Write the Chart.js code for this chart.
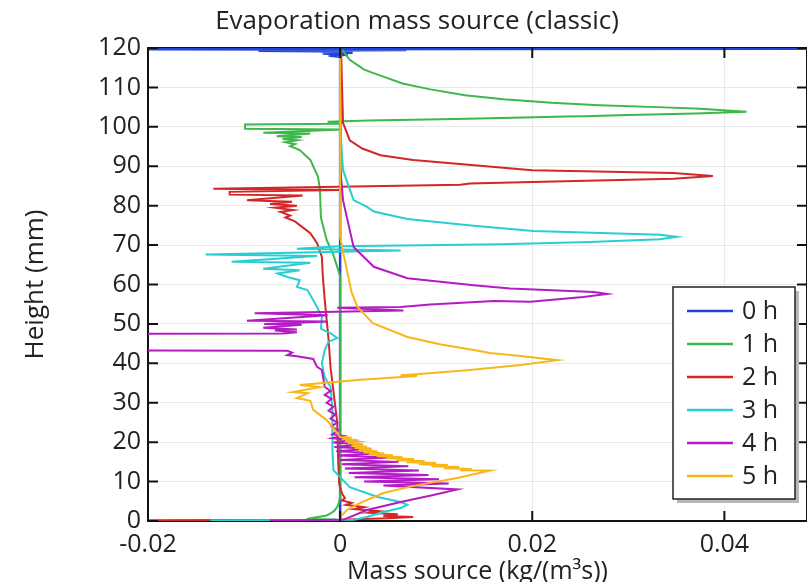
<!DOCTYPE html>
<html>
<head>
<meta charset="utf-8">
<script src="https://cdn.jsdelivr.net/npm/chart.js@4"></script>
<style>
  html, body { margin: 0; padding: 0; background: #fff; }
  #wrap { width: 807px; height: 582px; }
</style>
</head>
<body>
<div id="wrap"><canvas id="chart" width="807" height="582"></canvas></div>
<script>
/* ------------------------------------------------------------------ */
/*  Data  ([mass source, height])                                      */
/* ------------------------------------------------------------------ */

var seriesLabels = ["0 h", "1 h", "2 h", "3 h", "4 h", "5 h"];
var seriesColors = ["#2143d6", "#3db84a", "#d42626", "#27cfd2", "#b31bc4", "#f8b718"];

var xTicks = [-0.02, 0, 0.02, 0.04];
var xTickLabels = ["-0.02", "0", "0.02", "0.04"];
var yTicks = [0, 10, 20, 30, 40, 50, 60, 70, 80, 90, 100, 110, 120];

var h0 = [
  [0, 0], [0, 117.8], [-0.0012, 118.1], [0.0008, 118.3], [-0.0018, 118.6], [0.0013, 118.8],
  [-0.0019, 119.0], [0.0013, 119.1], [-0.0085, 119.3], [0.0069, 119.4], [-0.0085, 119.5],
  [0.0069, 119.55], [-0.03, 119.7], [0.06, 119.8], [-0.03, 119.9], [0.06, 120]
];

var h1 = [
  [0.0002, 119.5], [0.001, 117], [0.0025, 114.5], [0.0042, 113.0], [0.0065, 111.0], [0.0094, 109.5],
  [0.013, 108.0], [0.017, 107.0], [0.022, 106.1], [0.027, 105.5], [0.033, 105.0], [0.0375, 104.6],
  [0.0423, 103.8], [0.037, 103.4], [0.03, 103.0], [0.0255, 102.7], [0.0235, 102.6], [0.018, 102.3],
  [0.012, 102.0], [0.003, 101.6], [-0.0013, 101.3], [0.0002, 100.8], [-0.0099, 100.6], [-0.0099, 99.5],
  [0.0002, 99.3], [-0.008, 98.5], [-0.0031, 98.3], [-0.0066, 97.6], [-0.004, 97.4], [-0.006, 96.9],
  [-0.0045, 96.6], [-0.0057, 96.1], [-0.0047, 95.6], [-0.0052, 95.1], [-0.0042, 94.1], [-0.0031, 91.6],
  [-0.0023, 87.3], [-0.0021, 84], [-0.002, 77], [-0.0014, 71.3], [-0.0007, 67.5], [-0.0002, 63.7],
  [0, 62], [0, 6.0], [-0.0002, 4.0], [-0.0006, 2.6], [-0.001, 1.9], [-0.0014, 1.4], [-0.0035, 0.5],
  [-0.0005, 0.4], [0, 0]
];

var h2 = [
  [0.0001, 119.5], [0.0002, 110], [0.0003, 101], [0.001, 96.6], [0.0023, 94.5], [0.0042, 92.8],
  [0.0076, 91.6], [0.02, 89.0], [0.0347, 88.3], [0.0388, 87.5], [0.0347, 86.8], [0.02, 86.0],
  [0.0135, 85.6], [0.0125, 85.3], [0.003, 84.9], [-0.0132, 84.3], [0.0, 84.0], [-0.0115, 83.5],
  [-0.0115, 82.8], [-0.0039, 82.6], [-0.0097, 81.4], [-0.005, 81.0], [-0.0073, 80.4], [-0.0045, 80.0],
  [-0.0068, 79.5], [-0.0049, 78.9], [-0.0062, 78.4], [-0.0052, 77.5], [-0.0057, 77.0], [-0.0047, 76.0],
  [-0.0039, 74.5], [-0.0031, 73], [-0.0024, 70.5], [-0.0019, 67], [-0.0018, 62], [-0.0016, 56],
  [-0.0014, 51], [-0.0012, 46], [-0.001, 39], [-0.0006, 31], [-0.0003, 25], [-0.0002, 15],
  [-0.0001, 9.5], [0.0, 8.5], [0.0002, 7], [0.0005, 5.8], [0.0002, 5.2], [0.0012, 4.6], [0.0006, 4.1],
  [0.0025, 3.5], [0.0015, 3.0], [0.004, 2.5], [0.003, 2.1], [0.006, 1.7], [0.0045, 1.3], [0.0076, 1.0],
  [0.005, 0.7], [0.0, 0.3], [-0.025, 0.15]
];

var h3 = [
  [0, 119.5], [0, 100], [0.0003, 89], [0.0014, 81.4], [0.0028, 79.7], [0.0035, 78.5], [0.007, 76.6],
  [0.0139, 74.9], [0.0201, 73.6], [0.0333, 72.6], [0.035, 72.1], [0.0333, 71.5], [0.026, 70.8],
  [0.0167, 70.2], [0.0063, 69.9], [0.0, 69.7], [-0.0045, 69.1], [0.0063, 68.6], [-0.014, 67.6],
  [-0.0024, 67.2], [-0.0113, 65.8], [-0.0031, 65.5], [-0.008, 64.0], [-0.0042, 63.6], [-0.0065, 62.8],
  [-0.0055, 61.9], [-0.0042, 61.1], [-0.0045, 59.4], [-0.0034, 58.6], [-0.0024, 54.3], [-0.0019, 51.8],
  [-0.002, 48.8], [-0.0009, 47.5], [-0.0003, 46.4], [-0.0012, 45.5], [-0.0016, 43.4], [-0.0019, 40],
  [-0.0016, 36.5], [-0.001, 34], [-0.0008, 28], [-0.0008, 18], [-0.0007, 12.9], [0.001, 8.6],
  [0.0039, 6.1], [0.0063, 4.8], [0.007, 4.1], [0.0063, 3.3], [0.0045, 2.3], [0.0028, 1.0],
  [0.0014, 0.3], [-0.0135, 0.15]
];

var h4 = [
  [0, 119.5], [0, 90], [0.0003, 81.4], [0.0014, 69.5], [0.0035, 64.5], [0.007, 61.6], [0.0139, 59.8],
  [0.0177, 59.0], [0.0264, 58.1], [0.0278, 57.6], [0.0253, 56.8], [0.0198, 55.6], [0.016, 55.8],
  [0.0094, 54.9], [0.0063, 54.3], [-0.0003, 54.1], [0.0066, 53.4], [-0.0089, 52.7], [-0.0013, 52.2],
  [-0.0097, 50.8], [-0.0013, 50.6], [-0.0079, 50.0], [-0.004, 49.8], [-0.008, 49.0], [-0.0045, 48.6],
  [-0.0068, 48.3], [-0.0045, 47.9], [-0.006, 47.6], [-0.03, 47.4], [-0.03, 43.3], [-0.0055, 43.2],
  [-0.005, 42.7], [-0.0055, 42.1], [-0.0045, 41.8], [-0.0028, 41.1], [-0.0024, 39.1], [-0.0019, 38.3],
  [-0.0016, 34], [-0.001, 33], [-0.0016, 32], [-0.0009, 31], [-0.0014, 30], [-0.0007, 29],
  [-0.0012, 28], [-0.0005, 27], [-0.001, 26], [-0.0003, 25], [-0.0009, 24], [-0.0002, 23],
  [-0.0008, 22], [0.0003, 21.6], [-0.0008, 21.0], [0.0012, 20.5], [-0.0007, 19.9], [0.0022, 19.4],
  [-0.0006, 18.8], [0.0031, 18.3], [-0.0004, 17.7], [0.0041, 17.2], [-0.0002, 16.6], [0.0051, 16.1],
  [0.0, 15.5], [0.0061, 15.0], [0.0002, 14.4], [0.0071, 13.9], [0.0005, 13.3], [0.0082, 12.8],
  [0.0009, 12.2], [0.0092, 11.7], [0.0015, 11.1], [0.0103, 10.6], [0.0025, 10.0], [0.0113, 9.5],
  [0.0045, 9.0], [0.0122, 8.0], [0.0097, 6.6], [0.0063, 4.8], [0.0028, 2.8], [0.001, 1.0],
  [0.0003, 0.3], [-0.0073, 0.15]
];

var h5 = [
  [0, 119.5], [0, 72], [0.0002, 69.5], [0.0007, 63.7], [0.0012, 58], [0.0018, 54.3], [0.0034, 50.2],
  [0.007, 46.7], [0.0105, 44.8], [0.0139, 43.4], [0.0156, 42.6], [0.019, 41.8], [0.0226, 40.8],
  [0.0188, 39.6], [0.0135, 38.3], [0.0083, 37.3], [0.0063, 37.0], [0.008, 36.8], [0.0018, 35.8],
  [-0.0042, 34.5], [-0.0021, 34.0], [-0.0049, 32.7], [-0.0034, 32.4], [-0.0045, 31.2], [-0.0031, 30.5],
  [-0.0028, 28.2], [-0.0014, 25.6], [-0.0007, 23.6], [0.0, 21.3], [0.0012, 21.1], [0.0002, 20.8],
  [0.0016, 20.6], [0.0005, 20.3], [0.0019, 20.1], [0.0008, 19.7], [0.0024, 19.5], [0.0012, 19.1],
  [0.0028, 18.9], [0.0015, 18.5], [0.0033, 18.3], [0.0019, 17.9], [0.0039, 17.7], [0.0024, 17.4],
  [0.0046, 17.2], [0.003, 16.9], [0.0055, 16.7], [0.0038, 16.4], [0.0065, 16.2], [0.0048, 15.9],
  [0.0077, 15.7], [0.0058, 15.4], [0.0088, 15.2], [0.0069, 14.9], [0.01, 14.7], [0.0082, 14.4],
  [0.0112, 14.2], [0.0095, 13.9], [0.0124, 13.7], [0.0108, 13.4], [0.0137, 13.2], [0.0125, 12.9],
  [0.0156, 12.8], [0.0122, 10.9], [0.008, 9.1], [0.0045, 7.1], [0.0021, 4.6], [0.0007, 2.8],
  [0.0, 1.0], [0.0, 0]
];

var allSeries = [h0, h1, h2, h3, h4, h5];

/* ------------------------------------------------------------------ */
/*  Plugins                                                            */
/* ------------------------------------------------------------------ */

var FONT = "'Open Sans', 'Noto Sans', sans-serif";

// plot title, offset to the left like the source figure
var titlePlugin = {
  id: "plotTitle",
  afterDraw: function (chart) {
    var ctx = chart.ctx;
    ctx.save();
    ctx.fillStyle = "#222";
    ctx.font = "26px " + FONT;
    ctx.textAlign = "center";
    ctx.textBaseline = "middle";
    ctx.fillText("Evaporation mass source (classic)", 417, 22);
    ctx.restore();
  }
};

// box frame under the data, inward tick marks over it
var framePlugin = {
  id: "frame",
  beforeDatasetsDraw: function (chart) {
    var ctx = chart.ctx, a = chart.chartArea;
    ctx.save();
    ctx.strokeStyle = "#111";
    ctx.lineWidth = 2;
    ctx.strokeRect(a.left, a.top, a.right - a.left, a.bottom - a.top);
    ctx.restore();
  },
  afterDatasetsDraw: function (chart) {
    var ctx = chart.ctx, a = chart.chartArea;
    var xs = chart.scales.x, ys = chart.scales.y;
    ctx.save();
    ctx.strokeStyle = "#111";
    ctx.lineWidth = 2;
    ctx.beginPath();
    xTicks.forEach(function (v) {
      var px = xs.getPixelForValue(v);
      ctx.moveTo(px, a.top); ctx.lineTo(px, a.top + 10);
      ctx.moveTo(px, a.bottom); ctx.lineTo(px, a.bottom - 10);
    });
    yTicks.forEach(function (v) {
      var py = ys.getPixelForValue(v);
      ctx.moveTo(a.left, py); ctx.lineTo(a.left + 10, py);
      ctx.moveTo(a.right, py); ctx.lineTo(a.right - 10, py);
    });
    ctx.stroke();
    ctx.restore();
  }
};

// legend box inside the plot, lower right
var legendPlugin = {
  id: "boxLegend",
  afterDraw: function (chart) {
    var ctx = chart.ctx, a = chart.chartArea;
    var left = a.right - 134, top = a.top + 239, w = 122, h = 212;
    ctx.save();
    ctx.fillStyle = "#b8b8b8";
    ctx.fillRect(left + 4, top + 4, w, h);
    ctx.fillStyle = "#fff";
    ctx.fillRect(left, top, w, h);
    ctx.strokeStyle = "#222";
    ctx.lineWidth = 1.5;
    ctx.strokeRect(left, top, w, h);
    ctx.font = "25px " + FONT;
    ctx.textBaseline = "middle";
    ctx.textAlign = "left";
    seriesLabels.forEach(function (lbl, i) {
      var y = top + 24 + i * 33;
      ctx.strokeStyle = seriesColors[i];
      ctx.lineWidth = 2.5;
      ctx.beginPath();
      ctx.moveTo(left + 14, y);
      ctx.lineTo(left + 60, y);
      ctx.stroke();
      ctx.fillStyle = "#222";
      ctx.fillText(lbl, left + 69, y + 1);
    });
    ctx.restore();
  }
};

/* ------------------------------------------------------------------ */
/*  Chart                                                              */
/* ------------------------------------------------------------------ */

var datasets = allSeries.map(function (s, i) {
  return {
    label: seriesLabels[i],
    data: s.map(function (p) { return { x: p[0], y: p[1] }; }),
    showLine: true,
    borderColor: seriesColors[i],
    backgroundColor: seriesColors[i],
    borderWidth: i === 0 ? 2.5 : 2,
    pointRadius: 0,
    tension: 0,
    fill: false,
    order: seriesLabels.length - i
  };
});

new Chart(document.getElementById("chart"), {
  type: "scatter",
  data: { datasets: datasets },
  options: {
    responsive: false,
    animation: false,
    layout: { padding: { top: 48, right: 0, bottom: 0, left: 0 } },
    plugins: {
      legend: { display: false },
      tooltip: { enabled: false },
      title: { display: false }
    },
    scales: {
      x: {
        type: "linear",
        min: -0.02,
        max: 0.0486,
        afterBuildTicks: function (s) { s.ticks = xTicks.map(function (v) { return { value: v }; }); },
        afterFit: function (s) { s.height = 61; },
        ticks: {
          color: "#222",
          padding: 9,
          font: { family: FONT, size: 25 },
          maxRotation: 0,
          callback: function (v) { return xTickLabels[xTicks.indexOf(v)]; }
        },
        grid: { color: "#e9e9e9", drawTicks: false },
        border: { display: false },
        title: {
          display: true,
          text: "Mass source (kg/(m\u00b3s))",
          color: "#222",
          font: { family: FONT, size: 25, lineHeight: 1.0 },
          padding: { top: 0, bottom: -2 }
        }
      },
      y: {
        min: 0,
        max: 120,
        afterBuildTicks: function (s) { s.ticks = yTicks.map(function (v) { return { value: v }; }); },
        afterFit: function (s) { s.width = 148; },
        ticks: {
          color: "#222",
          padding: 7,
          font: { family: FONT, size: 25 }
        },
        grid: { color: "#e9e9e9", drawTicks: false },
        border: { display: false },
        title: {
          display: true,
          text: "Height (mm)",
          color: "#222",
          font: { family: FONT, size: 26, lineHeight: 1.2 },
          padding: { top: 20, bottom: 0 }
        }
      }
    }
  },
  plugins: [framePlugin, legendPlugin, titlePlugin]
});
</script>
</body>
</html>
